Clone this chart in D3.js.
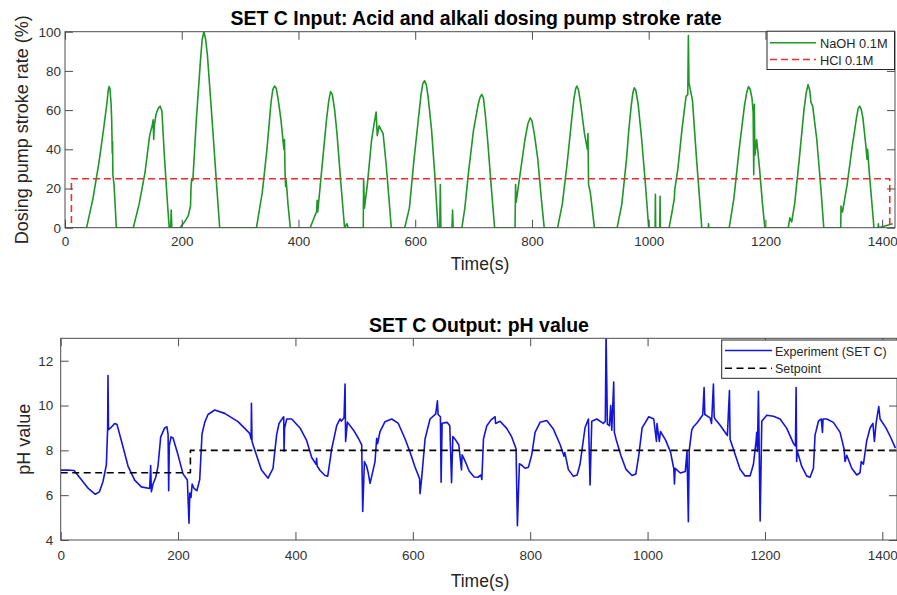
<!DOCTYPE html>
<html>
<head>
<meta charset="utf-8">
<script src="https://cdn.jsdelivr.net/npm/d3@7"></script>
<style>
  body { margin: 0; background: #fff; }
  svg { display: block; font-family: "Liberation Sans", Arial, sans-serif; }
  .tick text { fill: #333; font-size: 13.5px; }
  .tick line { stroke: #4d4d4d; }
</style>
</head>
<body>
<svg id="chart" width="897" height="595"></svg>
<script>
// SET C — dosing pump stroke rates (top) and resulting pH (bottom).
// Values, [time (s), value].

const timeTicks = [0, 200, 400, 600, 800, 1000, 1200, 1400];
const rateTicks = [0, 20, 40, 60, 80, 100];
const phTicks = [4, 6, 8, 10, 12];

const naoh = [
  [0, 0], [37, 0], [48, 15], [58, 33], [66, 50], [72, 64], [74, 70], [75.5, 72], [77, 71], [79, 63],
  [80, 55], [81, 38], [81.5, 44], [82, 27], [84, 22], [88, 0], [117, 0], [127, 12], [137, 28],
  [145, 47], [150, 53], [151, 55], [152, 45], [153, 52], [156, 58], [160, 61], [163, 62], [166, 59.5],
  [170, 38], [175, 15], [178.5, 0], [181, 0], [182, 9], [183, 0], [197, 0], [205, 3], [211, 6],
  [215, 11], [216, 21], [217, 25], [219, 24], [225, 55], [232, 85], [235, 96], [238, 100], [241, 96],
  [244, 88], [252, 55], [259, 25], [265, 0],
  [328, 0], [338, 18], [346, 40], [353, 64], [356, 70.5], [359, 72.3], [362, 71], [365, 66], [370, 55],
  [375, 40], [376, 45], [377, 28], [378, 21], [379, 24], [382, 12], [386, 0], [420, 0], [428, 6],
  [431, 8], [432, 14], [433, 8], [440, 30], [448, 55], [452, 65], [455, 69.4], [458, 68], [462, 60],
  [466, 48], [472, 25], [479, 0], [483, 2], [485, 0], [511, 0], [511.6, 25], [513, 10], [518, 22],
  [525, 44], [529, 52], [533, 59], [535, 47], [538, 52], [545, 48], [550, 33], [555, 15], [559, 0],
  [582, 0], [590, 10], [598, 35], [606, 57], [610, 68], [613, 73.5], [616, 75], [619, 73], [622, 67],
  [628, 50], [634, 25], [639, 0], [642, 0], [643, 22], [644, 0], [663, 0], [664, 9], [665, 0],
  [680, 0], [685, 10], [692, 30], [700, 50], [708, 63], [711, 66.5], [714, 68], [717, 66], [720, 58],
  [724, 45], [730, 22], [736, 0], [771, 0], [772, 22], [773, 13], [780, 28], [788, 45], [793, 53],
  [797, 56], [800, 54.5], [804, 48], [810, 35], [816, 15], [821, 0], [844, 0], [852, 12], [860, 32],
  [868, 55], [872, 66], [875, 71], [877, 72.3], [880, 70], [884, 62], [890, 48], [895, 40], [896, 48],
  [897, 22], [900, 18], [907, 0], [946, 0], [954, 12], [962, 35], [966, 50], [970, 62], [973, 69],
  [975.3, 71.4], [978, 70], [982, 63], [988, 45], [995, 20], [1000, 0], [1011, 0], [1011.5, 17],
  [1012, 0], [1019, 0], [1019.5, 16], [1020, 0], [1035, 0], [1040, 8], [1044, 15], [1044.5, 19],
  [1050, 30], [1057, 50], [1064, 67], [1067, 68], [1068, 98], [1069, 74], [1075, 65], [1082, 35],
  [1091, 0], [1102, 0], [1102.5, 2], [1103, 0], [1138, 0], [1146, 15], [1155, 40], [1164, 62],
  [1168, 69], [1171, 72], [1174, 70.5], [1177, 66], [1179, 59], [1180, 27], [1181, 63], [1182, 37],
  [1185, 45], [1190, 30], [1195, 12], [1199, 0], [1239, 0], [1242, 5], [1245, 3], [1250, 12],
  [1258, 35], [1266, 60], [1270, 69], [1273, 73], [1276, 70], [1278, 64], [1281, 62], [1288, 45],
  [1295, 20], [1300, 0], [1329, 0], [1329.5, 11], [1332, 8], [1340, 22], [1348, 40], [1356, 56],
  [1359, 61], [1361.5, 62], [1364, 60.5], [1367, 56], [1372, 42], [1374, 35], [1375, 40], [1378, 28],
  [1386, 0], [1393, 0], [1393.5, 2], [1394, 0], [1418, 2]
];

const hcl = [[0, 0], [11, 0], [11, 25], [1413, 25], [1413, 0], [1422, 0]];

const ph = [
  [0, 7.12], [12, 7.12], [22.7, 7.1], [35, 6.7], [47, 6.3], [59, 6.04], [66, 6.15], [72, 6.6],
  [77.8, 7.35], [80, 9.0], [80.6, 11.34], [81.5, 8.92], [85, 9.0], [92, 9.2], [96, 9.15],
  [103.4, 8.43], [114.7, 7.3], [126, 6.67], [137.4, 6.37], [151.6, 6.3], [153.3, 7.32], [154.5, 6.15],
  [157.3, 6.5], [162, 6.8], [165.8, 7.3], [170.4, 8.6], [177.2, 9.0], [181, 9.05], [183, 8.7],
  [184, 6.2], [185, 8.2], [188, 8.6], [191.4, 8.55], [199.9, 7.8], [208.4, 6.95], [215.8, 6.68],
  [218.6, 4.75], [220, 6.1], [222, 5.9], [224, 6.5], [227.2, 6.3], [232, 6.2], [236.9, 6.7],
  [240.8, 8.73], [245.4, 9.25], [251, 9.6], [262.4, 9.8], [279.4, 9.65], [302.1, 9.28], [322, 8.76],
  [324.5, 8.5], [325, 10.1], [326, 8.4], [330.5, 8.03], [341.9, 7.13], [353.3, 6.76], [361.8, 7.2],
  [365, 8.0], [368, 8.7], [372, 9.2], [378.3, 9.45], [380, 9.5], [380.6, 7.96], [381.5, 9.0],
  [385.1, 9.4], [393.6, 9.4], [407.8, 9.0], [419.2, 8.43], [427.7, 7.68], [435.1, 7.38], [436, 7.65],
  [437, 7.3], [441.9, 7.1], [450.4, 6.88], [455, 6.85], [461.8, 8.07], [470.3, 9.1], [476, 9.4],
  [478, 9.3], [482.8, 9.46], [484.5, 10.96], [485.5, 8.4], [488.5, 9.26], [498.7, 8.91], [507.2, 8.54],
  [512.9, 8.24], [514.6, 5.27], [517.5, 7.5], [521.4, 7.28], [524, 7.0], [527.1, 6.53], [530, 6.85],
  [535.6, 7.5], [538.4, 8.54], [540, 8.3], [544.1, 8.84], [552.6, 9.28], [564, 9.4], [575.3, 9.2],
  [586.7, 8.52], [595.2, 7.93], [603.7, 7.26], [611.5, 6.74], [612.3, 6.07], [615, 6.74],
  [620.9, 8.52], [629.4, 9.4], [639, 9.63], [641.9, 10.21], [643, 9.6], [647, 9.5], [648.2, 6.58],
  [649.9, 9.21], [658.4, 9.25], [663, 9.1], [666, 6.56], [668.2, 8.62], [672, 8.5], [678.4, 8.24],
  [682.9, 7.13], [684, 7.8], [690.3, 7.45], [696, 7.08], [704.5, 6.81], [711, 6.8], [716, 6.9],
  [717.6, 6.7], [720.4, 8.52], [726.1, 9.1], [733, 9.35], [740.2, 9.5], [741, 9.2], [748.6, 9.3],
  [760, 8.98], [768.5, 8.6], [775.9, 8.07], [778.2, 4.64], [781.6, 7.4], [785, 7.35], [791.2, 7.2],
  [797, 7.25], [802.6, 7.8], [808.3, 8.8], [816.8, 9.25], [828.2, 9.33], [839.5, 8.95], [850.9, 8.26],
  [857.7, 7.74], [859, 7.9], [865.1, 7.14], [873.6, 6.84], [880, 6.9], [884.9, 7.38], [893.5, 9.02],
  [899.2, 9.4], [902, 6.46], [904.9, 9.3], [913.4, 9.4], [924.7, 9.2], [928, 9.3], [929.3, 13.2],
  [931.5, 9.17], [935, 9.1], [937.2, 10.0], [939, 8.9], [942.3, 11.05], [943.4, 8.8], [946.3, 8.5],
  [954.8, 7.75], [963.3, 7.15], [973.5, 6.88], [980, 6.95], [985, 7.78], [990.7, 9.0], [1002, 9.5],
  [1010.5, 9.4], [1015.1, 8.4], [1016, 9.2], [1020, 8.4], [1022, 8.84], [1030.5, 8.47], [1039, 7.93],
  [1044.7, 7.18], [1045.8, 6.5], [1047, 7.2], [1055.8, 6.99], [1064.3, 7.06], [1067.2, 7.96],
  [1069.5, 4.82], [1071, 8.0], [1075.2, 8.9], [1078.1, 9.05], [1083.8, 9.21], [1094, 9.58],
  [1096.3, 10.8], [1097.5, 9.6], [1106.5, 9.45], [1109, 9.2], [1112.2, 10.96], [1113.5, 9.5],
  [1115, 9.4], [1123.6, 9.12], [1136, 8.66], [1139.5, 10.67], [1140.6, 8.5], [1149.1, 7.83],
  [1157.6, 7.16], [1166.2, 6.86], [1174.7, 6.86], [1180.4, 7.38], [1184.9, 8.43], [1186, 8.8],
  [1187.2, 7.95], [1188.9, 10.64], [1191.8, 4.85], [1194.6, 9.3], [1203.1, 9.57], [1214.5, 9.52],
  [1225.8, 9.4], [1237.2, 8.98], [1248.5, 8.31], [1252, 8.2], [1253.1, 10.8], [1254, 7.5],
  [1255.3, 7.95], [1262.7, 7.28], [1271.2, 6.85], [1276.9, 6.8], [1282.6, 7.2], [1285.4, 8.7],
  [1287, 8.85], [1291.1, 9.3], [1296, 9.4], [1298, 8.8], [1299, 9.4], [1305.3, 9.4], [1316.6, 9.25],
  [1328, 8.8], [1334.8, 8.06], [1336.5, 7.5], [1339.4, 7.78], [1347.9, 7.2], [1356.4, 6.9],
  [1362, 7.0], [1364, 7.5], [1367.8, 7.38], [1373.4, 8.43], [1379.1, 9.0], [1384, 9.2], [1386.5, 8.4],
  [1389.3, 9.2], [1393.9, 9.95], [1396.2, 9.4], [1406.4, 8.99], [1414.9, 8.54], [1422.3, 8.1]
];

const setpoint = [[0, 7], [221, 7], [221, 8], [1425, 8]];

const TICK = 8;
const svg = d3.select("#chart");

function panel(o) {
  const x = d3.scaleLinear().domain(o.xDomain).range([o.left, o.right]);
  const y = d3.scaleLinear().domain(o.yDomain).range([o.bottom, o.top]);
  const g = svg.append("g");

  svg.append("clipPath").attr("id", o.id)
    .append("rect")
    .attr("x", o.left).attr("y", o.top)
    .attr("width", o.right - o.left).attr("height", o.bottom - o.top);

  const line = d3.line().x((d) => x(d[0])).y((d) => y(d[1]));
  for (const s of o.series) {
    g.append("path")
      .datum(s.data)
      .attr("clip-path", `url(#${o.id})`)
      .attr("d", line)
      .attr("fill", "none")
      .attr("stroke", s.color)
      .attr("stroke-width", s.width)
      .attr("stroke-dasharray", s.dash || null)
      .attr("stroke-linejoin", "round");
  }

  // axes: MATLAB-style box with inward ticks on all four sides
  const plain = d3.format("d");
  const axes = [
    [d3.axisBottom(x).tickValues(timeTicks).tickFormat(plain).tickPadding(o.xPad), `translate(0,${o.bottom})`],
    [d3.axisTop(x).tickValues(timeTicks).tickFormat(""), `translate(0,${o.top})`],
    [d3.axisLeft(y).tickValues(o.yTicks).tickFormat(plain).tickPadding(o.yPad), `translate(${o.left},0)`],
    [d3.axisRight(y).tickValues(o.yTicks).tickFormat(""), `translate(${o.right},0)`],
  ];
  for (const [axis, transform] of axes) {
    const a = g.append("g")
      .attr("transform", transform)
      .call(axis.tickSizeInner(-TICK).tickSizeOuter(0))
      .attr("font-family", null)
      .attr("font-size", null);
    a.select(".domain").remove();
  }

  g.append("rect")
    .attr("x", o.left).attr("y", o.top)
    .attr("width", o.right - o.left).attr("height", o.bottom - o.top)
    .attr("fill", "none").attr("stroke", "#4d4d4d").attr("stroke-width", 1);

  g.append("text")
    .attr("x", o.titleX).attr("y", o.titleY)
    .attr("text-anchor", "middle")
    .attr("font-size", 19.5).attr("font-weight", "bold").attr("fill", "#000")
    .text(o.title);

  g.append("text")
    .attr("x", 480).attr("y", o.xLabelY)
    .attr("text-anchor", "middle")
    .attr("font-size", 17.5).attr("fill", "#262626")
    .text("Time(s)");

  g.append("text")
    .attr("transform", `translate(${o.yLabelX},${(o.top + o.bottom) / 2}) rotate(-90)`)
    .attr("text-anchor", "middle")
    .attr("font-size", 18).attr("fill", "#262626")
    .text(o.yLabel);

  // legend
  const L = o.legend;
  g.append("rect")
    .attr("x", L.x0).attr("y", L.y0)
    .attr("width", L.x1 - L.x0).attr("height", L.y1 - L.y0)
    .attr("fill", "#fff").attr("stroke", "#262626").attr("stroke-width", 1);
  o.series.forEach((s, i) => {
    const ly = L.rows[i];
    g.append("line")
      .attr("x1", L.lineX0).attr("x2", L.lineX1)
      .attr("y1", ly).attr("y2", ly)
      .attr("stroke", s.color).attr("stroke-width", s.width)
      .attr("stroke-dasharray", s.dash || null);
    g.append("text")
      .attr("x", L.textX).attr("y", ly + 5)
      .attr("font-size", L.fontSize).attr("fill", "#262626")
      .text(s.name);
  });
}

panel({
  id: "clip-top",
  left: 65, right: 895, top: 31.7, bottom: 227.7,
  xDomain: [0, 1422], yDomain: [0, 100],
  yTicks: rateTicks, xPad: 9, yPad: 4,
  title: "SET C Input: Acid and alkali dosing pump stroke rate",
  titleX: 476, titleY: 25,
  xLabelY: 270, yLabelX: 28,
  yLabel: "Dosing pump stroke rate (%)",
  series: [
    { name: "NaOH 0.1M", data: naoh, color: "#1e9628", width: 1.6 },
    { name: "HCl 0.1M", data: hcl, color: "#e8302e", width: 1.6, dash: "7,4" },
  ],
  legend: {
    x0: 767, x1: 894.5, y0: 31.2, y1: 69.5,
    rows: [42.7, 59.5], lineX0: 770, lineX1: 816, textX: 820, fontSize: 12.8,
  },
});

panel({
  id: "clip-bottom",
  left: 60.7, right: 897, top: 338.3, bottom: 540,
  xDomain: [0, 1425], yDomain: [4, 13],
  yTicks: phTicks, xPad: 10, yPad: 7.4,
  title: "SET C Output: pH value",
  titleX: 479, titleY: 331.5,
  xLabelY: 587, yLabelX: 30,
  yLabel: "pH value",
  series: [
    { name: "Experiment (SET C)", data: ph, color: "#1414dc", width: 1.6 },
    { name: "Setpoint", data: setpoint, color: "#000", width: 1.6, dash: "7,4.5" },
  ],
  legend: {
    x0: 721.7, x1: 897.5, y0: 340, y1: 378.3,
    rows: [350.5, 368.3], lineX0: 725, lineX1: 772, textX: 775, fontSize: 12.5,
  },
});
</script>
</body>
</html>
